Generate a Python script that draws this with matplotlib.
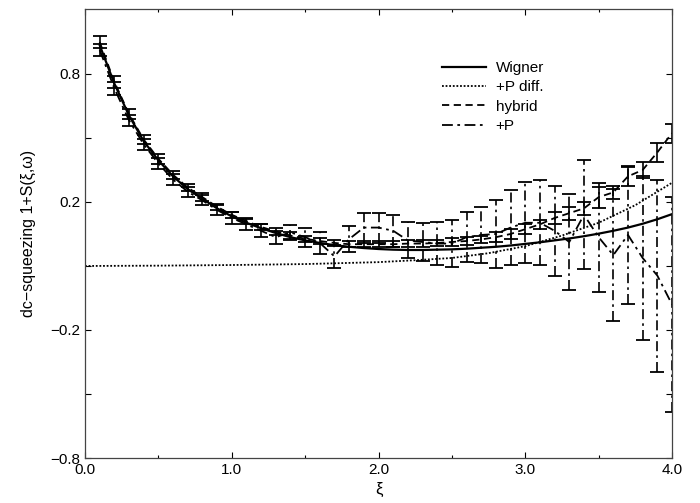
import matplotlib
matplotlib.use("Agg")
from matplotlib import pyplot as plt
from matplotlib.ticker import FixedLocator, MultipleLocator

plt.rcParams['font.family'] = ['Liberation Sans', 'DejaVu Sans']

# sample points (xi)
xi = [0.1, 0.2, 0.3, 0.4, 0.5, 0.6, 0.7, 0.8, 0.9, 1.0,
      1.1, 1.2, 1.3, 1.4, 1.5, 1.6, 1.7, 1.8, 1.9, 2.0,
      2.1, 2.2, 2.3, 2.4, 2.5, 2.6, 2.7, 2.8, 2.9, 3.0,
      3.1, 3.2, 3.3, 3.4, 3.5, 3.6, 3.7, 3.8, 3.9, 4.0]

wigner = [0.69, 0.57, 0.47, 0.39, 0.33, 0.28, 0.24, 0.21, 0.18, 0.155,
          0.135, 0.118, 0.103, 0.090, 0.080, 0.072, 0.065, 0.060, 0.056, 0.053,
          0.051, 0.050, 0.050, 0.051, 0.052, 0.054, 0.057, 0.060, 0.064, 0.069,
          0.074, 0.080, 0.086, 0.093, 0.101, 0.110, 0.120, 0.132, 0.146, 0.162]

hybrid = [0.70, 0.575, 0.475, 0.395, 0.335, 0.285, 0.245, 0.215, 0.185, 0.16,
          0.14, 0.122, 0.108, 0.095, 0.085, 0.078, 0.072, 0.068, 0.068, 0.068,
          0.068, 0.070, 0.070, 0.072, 0.075, 0.078, 0.083, 0.090, 0.100, 0.115,
          0.130, 0.150, 0.165, 0.180, 0.215, 0.230, 0.280, 0.300, 0.355, 0.415]
hybrid_err = [0.02, 0.02, 0.015, 0.015, 0.015, 0.012, 0.012, 0.012, 0.01, 0.01,
              0.01, 0.01, 0.01, 0.01, 0.01, 0.01, 0.01, 0.01, 0.01, 0.01,
              0.01, 0.01, 0.01, 0.01, 0.012, 0.012, 0.012, 0.015, 0.015, 0.015,
              0.015, 0.018, 0.02, 0.02, 0.033, 0.02, 0.03, 0.025, 0.03, 0.03]

plusp = [0.675, 0.555, 0.455, 0.38, 0.32, 0.27, 0.232, 0.205, 0.175, 0.15,
         0.13, 0.11, 0.09, 0.105, 0.09, 0.072, 0.03, 0.084, 0.12, 0.12,
         0.11, 0.08, 0.075, 0.07, 0.07, 0.09, 0.097, 0.10, 0.12, 0.135,
         0.135, 0.11, 0.075, 0.16, 0.09, 0.034, 0.097, 0.025, -0.03, -0.12]
plusp_err = [0.02, 0.02, 0.018, 0.018, 0.016, 0.016, 0.016, 0.016, 0.016, 0.018,
             0.018, 0.02, 0.02, 0.024, 0.03, 0.035, 0.035, 0.04, 0.047, 0.047,
             0.05, 0.056, 0.06, 0.067, 0.073, 0.078, 0.087, 0.105, 0.117, 0.127,
             0.133, 0.14, 0.15, 0.17, 0.17, 0.206, 0.216, 0.256, 0.30, 0.336]

# +P diffusion curve
xi_diff = [0.0, 0.5, 1.0, 1.5, 2.0, 2.25, 2.5, 2.75, 3.0, 3.25, 3.5, 3.75, 4.0]
pdiff = [0.0, 0.001, 0.003, 0.006, 0.012, 0.018, 0.025, 0.040, 0.062, 0.095, 0.135, 0.19, 0.26]

fig = plt.figure(figsize=(7.0, 5.03), dpi=100)
ax = fig.add_axes([85 / 700, 45 / 503, 587 / 700, 449 / 503])

ax.plot(xi, wigner, color="black", lw=1.6, label="Wigner")
ax.plot(xi_diff, pdiff, color="black", lw=1.3, linestyle=(0, (1, 1)), label="+P diff.")
hb = ax.errorbar(xi, hybrid, yerr=hybrid_err, color="black", lw=1.3, linestyle=(0, (4, 2.5)),
                 capsize=5, capthick=1.3, elinewidth=1.2, label="hybrid")
pp = ax.errorbar(xi, plusp, yerr=plusp_err, color="black", lw=1.3, linestyle=(0, (6, 2.5, 1.5, 2.5)),
                 capsize=5, capthick=1.3, elinewidth=1.2, label="+P")
pp[2][0].set_linestyle((0, (6, 2.5, 1.5, 2.5)))

ax.set_xlim(0, 4.0)
ax.set_ylim(-0.6, 0.803)
ax.xaxis.set_major_locator(FixedLocator([0.0, 1.0, 2.0, 3.0, 4.0]))
ax.set_xticklabels(["0.0", "1.0", "2.0", "3.0", "4.0"])
ax.xaxis.set_minor_locator(MultipleLocator(0.5))
ax.yaxis.set_major_locator(FixedLocator([-0.6, -0.4, -0.2, 0.0, 0.2, 0.4, 0.6]))
ax.set_yticklabels(["\u22120.8", "", "\u22120.2", "", "0.2", "", "0.8"])
ax.tick_params(which="both", direction="in", top=True, right=True, length=4, width=0.8, labelsize=11)
ax.tick_params(which="minor", length=2.5)
for s in ax.spines.values():
    s.set_linewidth(0.9)
    s.set_color("#444444")

ax.set_xlabel("\u03be", fontsize=12, labelpad=4)
ax.set_ylabel("dc\u2212squeezing 1+S(\u03be,\u03c9)", fontsize=11.5, labelpad=10)

handles, labels = ax.get_legend_handles_labels()
leg = ax.legend([h[0] if hasattr(h, 'lines') else h for h in handles], labels,
                loc="upper left", bbox_to_anchor=(0.585, 0.915), frameon=False, fontsize=11,
                handlelength=2.9, handletextpad=0.6, labelspacing=0.35)

fig.savefig("out.png", dpi=100)
